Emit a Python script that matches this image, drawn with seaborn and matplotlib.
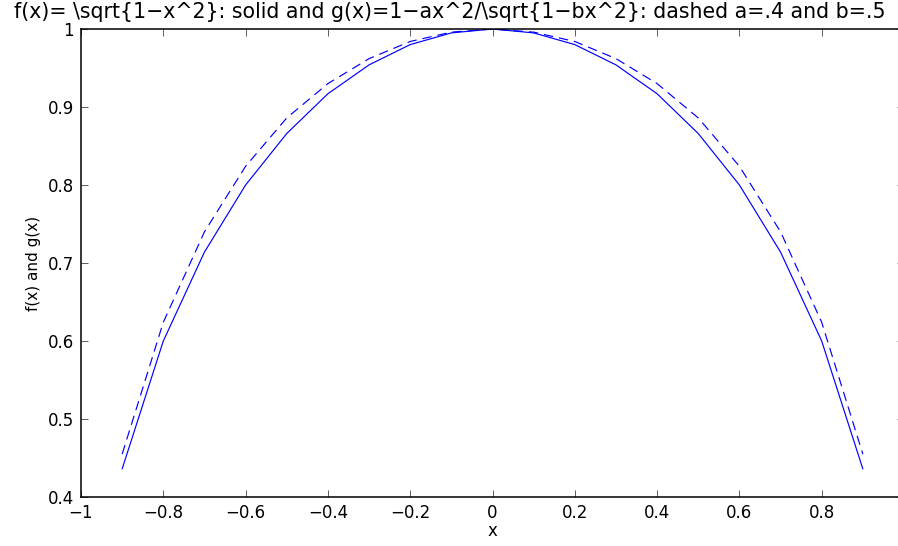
import matplotlib
matplotlib.use("Agg")
import matplotlib.pyplot as plt
import seaborn as sns
import pandas as pd

# sample points and the two curves
x_vals = [-0.9, -0.8, -0.7, -0.6, -0.5, -0.4, -0.3, -0.2, -0.1, 0.0,
          0.1, 0.2, 0.3, 0.4, 0.5, 0.6, 0.7, 0.8, 0.9]
f_vals = [0.436, 0.600, 0.714, 0.800, 0.866, 0.917, 0.954, 0.980, 0.995, 1.000,
          0.995, 0.980, 0.954, 0.917, 0.866, 0.800, 0.714, 0.600, 0.436]
g_vals = [0.455, 0.624, 0.740, 0.824, 0.886, 0.930, 0.962, 0.984, 0.996, 1.000,
          0.996, 0.984, 0.962, 0.930, 0.886, 0.824, 0.740, 0.624, 0.455]

x_ticks = [-1, -0.8, -0.6, -0.4, -0.2, 0, 0.2, 0.4, 0.6, 0.8, 1]
x_tick_labels = ["\u22121", "\u22120.8", "\u22120.6", "\u22120.4", "\u22120.2",
                 "0", "0.2", "0.4", "0.6", "0.8", "1"]
y_ticks = [0.4, 0.5, 0.6, 0.7, 0.8, 0.9, 1.0]
y_tick_labels = ["0.4", "0.5", "0.6", "0.7", "0.8", "0.9", "1"]

title_text = ("f(x)= \\sqrt{1\u2212x^2}: solid and "
              "g(x)=1\u2212ax^2/\\sqrt{1\u2212bx^2}: dashed a=.4 and b=.5")

sns.set_style("ticks")
plt.rcParams["font.family"] = ["DejaVu Sans"]
plt.rcParams["text.color"] = "black"
plt.rcParams["axes.labelcolor"] = "black"

df = pd.DataFrame({"x": x_vals, "f": f_vals, "g": g_vals})

fig = plt.figure(figsize=(8.98, 5.46), dpi=100)
ax = fig.add_axes([81 / 898, 49 / 546, 823 / 898, 468 / 546])

sns.lineplot(data=df, x="x", y="f", ax=ax, color="#0000ff", linewidth=0.85,
             estimator=None, sort=False)
sns.lineplot(data=df, x="x", y="g", ax=ax, color="#0000ff", linewidth=0.85,
             linestyle=(0, (8, 5)), estimator=None, sort=False)

ax.set_xlim(-1, 1)
ax.set_ylim(0.4, 1.0)
ax.set_xticks(x_ticks)
ax.set_xticklabels(x_tick_labels)
ax.set_yticks(y_ticks)
ax.set_yticklabels(y_tick_labels)

for side in ["left", "right", "top", "bottom"]:
    ax.spines[side].set_visible(True)
    ax.spines[side].set_linewidth(1.1)
    ax.spines[side].set_color("black")

ax.tick_params(direction="in", length=5, width=0.6, color="#444444",
               labelcolor="black", top=True, right=True, labelsize=12, pad=5)

ax.set_xlabel("x", fontsize=12, labelpad=0, color="black")
ax.set_ylabel("f(x) and g(x)", fontsize=11, labelpad=5, color="black")

fig.text(450 / 898, 1 - 12 / 546, title_text, ha="center", va="center",
         fontsize=14.8, color="black")

fig.savefig("out.png", dpi=100)
